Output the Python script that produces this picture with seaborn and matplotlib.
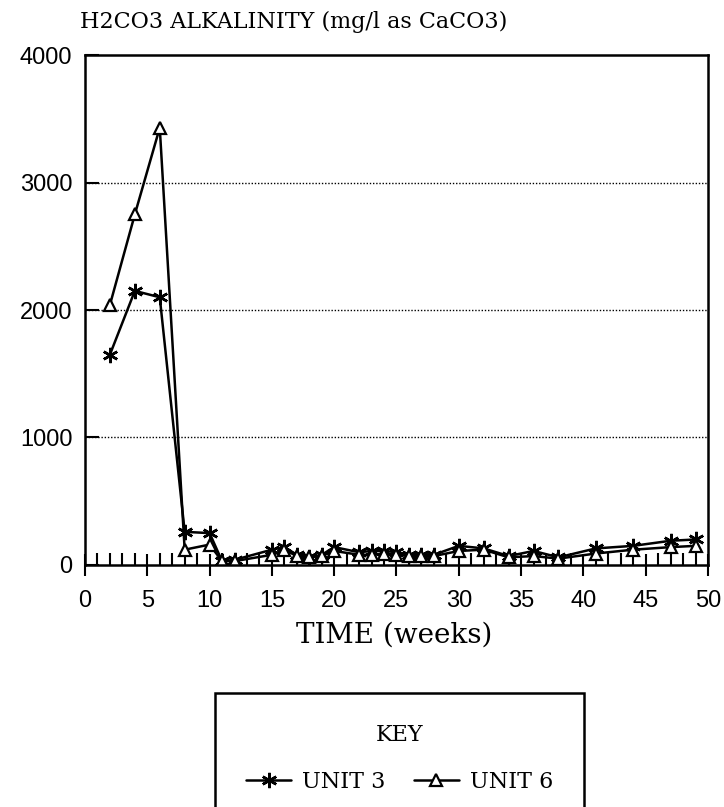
import matplotlib
matplotlib.use("Agg")
import matplotlib.pyplot as plt
import seaborn as sns
import pandas as pd
from matplotlib.ticker import MultipleLocator

weeks = [2, 4, 6, 8, 10, 11, 12, 15, 16, 17, 18, 19, 20, 22, 23, 24, 25, 26, 27, 28,
         30, 32, 34, 36, 38, 41, 44, 47, 49]
unit3 = [1650, 2150, 2100, 260, 250, 30, 40, 120, 140, 80, 60, 80, 140, 100, 110, 110,
         100, 80, 80, 80, 150, 130, 70, 110, 60, 130, 150, 190, 200]
unit6 = [2040, 2750, 3430, 120, 160, 30, 30, 80, 120, 70, 60, 70, 110, 80, 80, 90,
         80, 70, 70, 70, 110, 120, 60, 70, 50, 90, 120, 140, 150]
series_names = ["UNIT 3", "UNIT 6"]
title = "H2CO3 ALKALINITY (mg/l as CaCO3)"
xlabel = "TIME (weeks)"

sns.set_theme(style="white")
plt.rcParams["font.family"] = ["DejaVu Sans"]
plt.rcParams["text.color"] = "black"
plt.rcParams["xtick.color"] = "black"
plt.rcParams["ytick.color"] = "black"
plt.rcParams["axes.labelcolor"] = "black"

df = pd.concat([
    pd.DataFrame({"week": weeks, "value": unit3, "unit": series_names[0]}),
    pd.DataFrame({"week": weeks, "value": unit6, "unit": series_names[1]}),
])

fig = plt.figure(figsize=(7.24, 8.07), dpi=100)
ax = fig.add_axes([0.1174, 0.2999, 0.8605, 0.6319])

sns.lineplot(data=df[df.unit == series_names[0]], x="week", y="value", ax=ax,
             color="black", lw=1.8, marker=(6, 2, 0), markersize=11,
             markeredgewidth=1.8, markeredgecolor="black", label=series_names[0])
sns.lineplot(data=df[df.unit == series_names[1]], x="week", y="value", ax=ax,
             color="black", lw=1.8, marker="^", markersize=8.5,
             markerfacecolor="white", markeredgewidth=1.6, markeredgecolor="black",
             label=series_names[1])

ax.set_xlim(0, 50)
ax.set_ylim(0, 4000)
ax.xaxis.set_major_locator(MultipleLocator(5))
ax.xaxis.set_minor_locator(MultipleLocator(1))
ax.yaxis.set_major_locator(MultipleLocator(1000))
ax.tick_params(axis="x", which="major", direction="inout", length=16, width=1.5,
               labelsize=17, pad=10, bottom=True, colors="black")
ax.tick_params(axis="x", which="minor", direction="in", length=9, width=1.5,
               bottom=True, colors="black")
ax.tick_params(axis="y", which="major", direction="in", length=10, width=1.5,
               labelsize=17, pad=9, left=True, colors="black")
for lab in ax.get_xticklabels() + ax.get_yticklabels():
    lab.set_fontfamily("Liberation Sans")
for s in ax.spines.values():
    s.set_color("black")
    s.set_linewidth(1.8)
for yv in [1000, 2000, 3000]:
    ax.axhline(yv, color="black", lw=1.0, ls=(0, (1, 1.3)), zorder=0)
ax.set_xlabel("")
ax.set_ylabel("")
ax.get_legend().remove()

fig.text(0.11, 0.9727, title, fontsize=16, family="DejaVu Serif", ha="left",
         va="center", color="black")
fig.text(0.545, 0.213, xlabel, fontsize=20, family="DejaVu Serif", ha="center",
         va="center", color="black")

handles, labels = ax.get_legend_handles_labels()
leg = fig.legend(handles, labels, title="KEY", ncol=2, loc="upper center",
                 bbox_to_anchor=(0.552, 0.1413), frameon=True, fancybox=False,
                 handlelength=2.0, borderpad=1.4, borderaxespad=0,
                 columnspacing=1.3, handletextpad=0.5,
                 prop={"family": "DejaVu Serif", "size": 16},
                 edgecolor="black", labelcolor="black")
leg.get_title().set_fontfamily("DejaVu Serif")
leg.get_title().set_fontsize(16)
leg.get_title().set_color("black")
leg._legend_box.sep = 18
leg.get_frame().set_linewidth(1.8)
leg.get_frame().set_alpha(1)

fig.savefig("out.png", dpi=100, facecolor="white")
